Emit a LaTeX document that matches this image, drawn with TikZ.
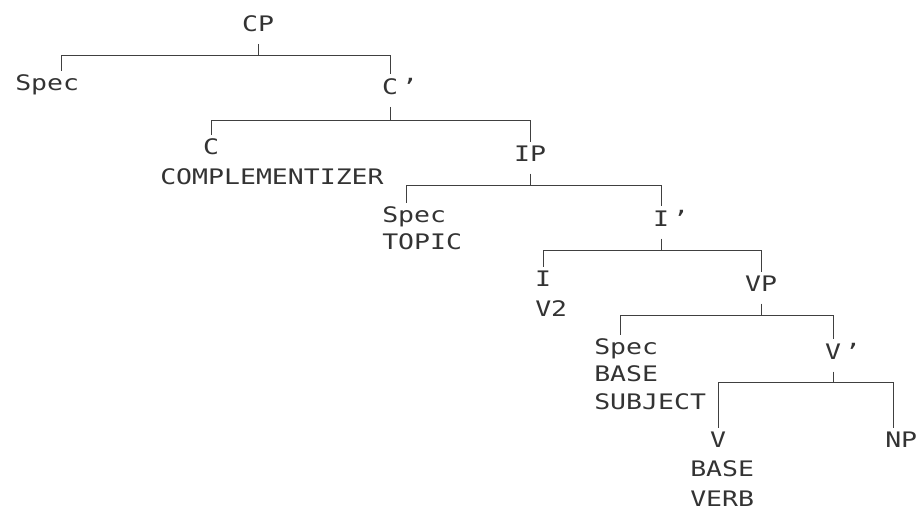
\documentclass[tikz,border=0pt]{standalone}
\usepackage{fontspec}
\setmonofont{DejaVu Sans Mono}[FakeStretch=1.24]
\usetikzlibrary{calc}

\begin{document}
\begin{tikzpicture}[
    x=0.025cm, y=-0.025cm,
    every node/.style={font=\ttfamily\fontsize{15.2}{18}\selectfont, text=black!80, inner sep=0pt},
    cat/.style={anchor=base},
    gloss/.style={anchor=base west},
    edge/.style={draw=black!75, line width=0.7pt, shorten <=3pt, shorten >=3pt},
    stub/.style={draw=black!75, line width=0.7pt, shorten <=8pt}
]
    \useasboundingbox (0,0) rectangle (917,517);

    % categories
    \node[cat] (cp) at (258,32) {CP};
    \node[gloss] (spec1) at (15,91) {Spec};
    \node[cat] (cbar) at (390,95) {C\rlap{\,’}};
    \node[cat] (c) at (211,155) {C};
    \node[cat] (ip) at (530,162) {IP};
    \node[gloss] (spec2) at (382,223) {Spec};
    \node[cat] (ibar) at (661,227) {I\rlap{\,’}};
    \node[cat] (i) at (543,287) {I};
    \node[cat] (vp) at (761,292) {VP};
    \node[gloss] (spec3) at (594,355) {Spec};
    \node[cat] (vbar) at (833,360) {V\rlap{\,’}};
    \node[cat] (v) at (718,448) {V};
    \node[gloss] (np) at (885,448) {NP};

    % glosses
    \node[gloss] (comp) at (160,185) {COMPLEMENTIZER};
    \node[gloss] (topic) at (382,250) {TOPIC};
    \node[gloss] (vtwo) at (535,317) {V2};
    \node[gloss] (subjbase) at (594,382) {BASE};
    \node[gloss] (subject) at (594,410) {SUBJECT};
    \node[gloss] (verbbase) at (690,477) {BASE};
    \node[gloss] (verb) at (690,507) {VERB};

    % branches
    \draw[stub] (cp.south) -- (cp.south |- 0,55);
    \draw[edge] ([xshift=1.15cm]spec1.north west) |- (cbar.north |- 0,55) -- (cbar.north);

    \draw[stub] (cbar.south) -- (cbar.south |- 0,120);
    \draw[edge] (c.north) |- (ip.north |- 0,120) -- (ip.north);

    \draw[stub] (ip.south) -- (ip.south |- 0,185);
    \draw[edge] ([xshift=0.6cm]spec2.north west) |- (ibar.north |- 0,185) -- (ibar.north);

    \draw[stub] (ibar.south) -- (ibar.south |- 0,250);
    \draw[edge] (i.north) |- (vp.north |- 0,250) -- (vp.north);

    \draw[stub] (vp.south) -- (vp.south |- 0,315);
    \draw[edge] ([xshift=0.65cm]spec3.north west) |- (vbar.north |- 0,315) -- (vbar.north);

    \draw[stub] (vbar.south) -- (vbar.south |- 0,382);
    \draw[edge] (v.north) |- ([xshift=0.2cm]np.north west |- 0,382) -- ([xshift=0.2cm]np.north west);
\end{tikzpicture}
\end{document}
